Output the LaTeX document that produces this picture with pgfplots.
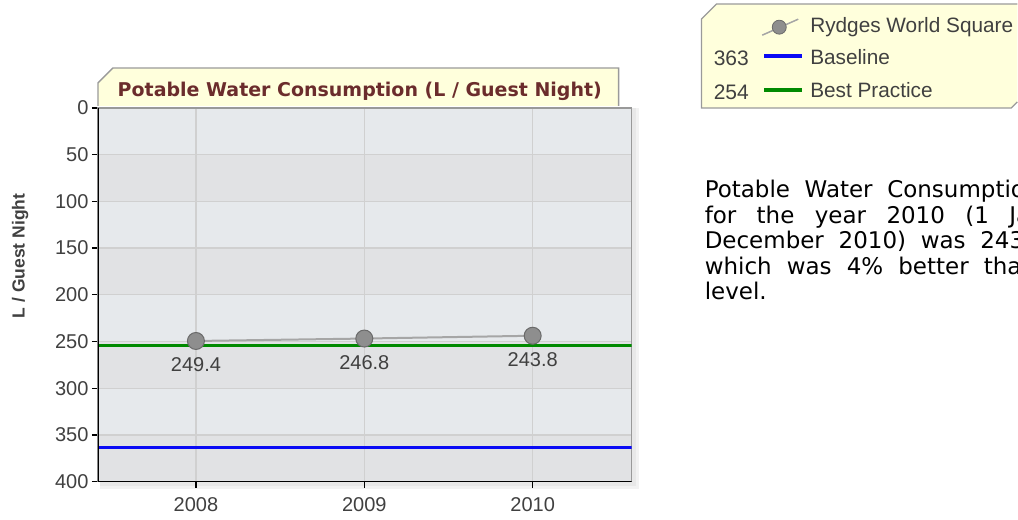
\documentclass[border=0pt]{standalone}
\usepackage{pgfplots}
\pgfplotsset{compat=1.18}
\usepackage{fontspec}
\setmainfont{Liberation Sans}
\newfontfamily\dejavu{DejaVu Sans}
\definecolor{bandlight}{HTML}{E6E9EC}
\definecolor{banddark}{HTML}{E1E2E4}
\definecolor{gridc}{HTML}{D0D0D0}
\definecolor{tabfill}{HTML}{FFFFDC}
\definecolor{tabborder}{HTML}{9A9A9A}
\definecolor{titlec}{HTML}{6B2C2C}
\definecolor{tickc}{HTML}{404040}
\definecolor{markfill}{HTML}{8E8E8E}
\definecolor{markdraw}{HTML}{6A6A6A}
\definecolor{linec}{HTML}{A6A6A6}
\definecolor{basec}{HTML}{0A0AF5}
\definecolor{bestc}{HTML}{008A00}
\pgfplotsset{frame/.style={at={(98pt,38pt)}, anchor=south west, scale only axis,
  width=534pt, height=374pt, xmin=2007.418, xmax=2010.5875, ymin=0, ymax=400, y dir=reverse}}
\begin{document}
\begin{tikzpicture}
\path (0pt,0pt) rectangle (1018pt,520pt);
% plot shadow
\fill[black!5] (100pt,31pt) rectangle (639pt,412pt);
\fill[black!9] (100pt,34pt) rectangle (636pt,412pt);
% title tab
\filldraw[fill=tabfill, draw=tabborder, line width=1.3pt] (98pt,414pt) -- (98pt,437pt) -- (113pt,452pt) -- (619pt,452pt) -- (619pt,414pt);
\node[font=\dejavu\bfseries\fontsize{19}{22}\selectfont, text=titlec, anchor=base, inner sep=0pt] at (360pt,423pt) {Potable Water Consumption (L / Guest Night)};
% legend box
\fill[tabfill] (702pt,412pt) -- (702pt,501pt) -- (717pt,516pt) -- (1018pt,516pt) -- (1018pt,418pt) -- (1012pt,412pt) -- cycle;
\draw[tabborder, line width=1.3pt] (1018pt,516pt) -- (717pt,516pt) -- (702pt,501pt) -- (702pt,412pt) -- (1012pt,412pt) -- (1018pt,418pt);
% paragraph
\begin{scope}[every node/.style={anchor=base west, inner sep=0pt, font=\dejavu\fontsize{23}{26}\selectfont}]
\node at (705pt,322pt) {\makebox[313pt][l]{\makebox[335pt][s]{Potable Water Consumption}}};
\node at (705pt,296pt) {\makebox[313pt][l]{\makebox[392pt][s]{for the year 2010 (1 January}}};
\node at (705pt,271pt) {\makebox[313pt][l]{\makebox[349pt][s]{December 2010) was 243.8,}}};
\node at (705pt,245pt) {\makebox[313pt][l]{\makebox[497pt][s]{which was 4\% better than the Baseline}}};
\node at (705pt,220pt) {level.};
\end{scope}
% background bands
\begin{axis}[frame, hide axis]
\fill[bandlight] (axis cs:2007.418,0) rectangle (axis cs:2010.5875,50);
\fill[banddark] (axis cs:2007.418,50) rectangle (axis cs:2010.5875,100);
\fill[bandlight] (axis cs:2007.418,100) rectangle (axis cs:2010.5875,150);
\fill[banddark] (axis cs:2007.418,150) rectangle (axis cs:2010.5875,200);
\fill[bandlight] (axis cs:2007.418,200) rectangle (axis cs:2010.5875,250);
\fill[banddark] (axis cs:2007.418,250) rectangle (axis cs:2010.5875,300);
\fill[bandlight] (axis cs:2007.418,300) rectangle (axis cs:2010.5875,350);
\fill[banddark] (axis cs:2007.418,350) rectangle (axis cs:2010.5875,400);
\end{axis}
\begin{axis}[
  frame,
  xtick={2008,2009,2010}, xticklabels={2008,2009,2010},
  ytick={0,50,...,400},
  grid=major, grid style={gridc, line width=1.3pt},
  tick pos=left, tick align=outside, major tick length=6pt,
  tick style={black, line width=1.2pt},
  ticklabel style={font=\fontsize{20}{24}\selectfont, text=tickc},
  xticklabel style={yshift=-6pt},
  /pgf/number format/assume math mode=true,
  axis line style={draw=gray!80, line width=1.5pt},
  ylabel={L / Guest Night},
  ylabel style={font=\bfseries\fontsize{17.5}{21}\selectfont, text=tickc, at={(axis description cs:-0.146,0.604)}, anchor=center},
  reverse legend,
  legend cell align=left,
  legend style={at={(axis description cs:1.1536,1.2434)}, anchor=north west, draw=none, fill=none, inner sep=0pt,
    font=\fontsize{20.8}{25}\selectfont, text=tickc, row sep=10pt,
    /tikz/every odd column/.append style={column sep=6pt},
    nodes={inner sep=0pt, text height=15pt, text depth=7pt}},
]
\addplot[bestc, line width=3pt,
  legend image code/.code={\node[anchor=base east, text=tickc, font=\fontsize{21}{25}\selectfont] at (-14pt,-5.5pt) {254}; \draw[bestc, line width=4pt] (0pt,4pt) -- (38pt,4pt);}]
  coordinates {(2007.418,254) (2010.5875,254)};
\addlegendentry{Best Practice}
\addplot[basec, line width=3pt,
  legend image code/.code={\node[anchor=base east, text=tickc, font=\fontsize{21}{25}\selectfont] at (-14pt,-5.5pt) {363}; \draw[basec, line width=4pt] (0pt,4pt) -- (38pt,4pt);}]
  coordinates {(2007.418,363) (2010.5875,363)};
\addlegendentry{Baseline}
\addplot[linec, line width=2pt, mark=*, mark size=8.5pt,
  mark options={fill=markfill, draw=markdraw, line width=1pt},
  nodes near coords={\pgfmathprintnumber[fixed,fixed zerofill,precision=1]{\pgfplotspointmeta}},
  nodes near coords style={anchor=center, yshift=-24pt, text=tickc, font=\fontsize{20}{24}\selectfont},
  legend image code/.code={\draw[linec, line width=1.5pt] (-2pt,-7pt) -- (34pt,9pt); \filldraw[fill=markfill, draw=markdraw, line width=0.8pt] (15pt,1pt) circle (7pt);}]
  coordinates {(2008,249.4) (2009,246.8) (2010,243.8)};
\addlegendentry{Rydges World Square}
\draw[black, line width=2pt] (rel axis cs:0,0) -- (rel axis cs:0,1);
\draw[black, line width=2pt] (rel axis cs:0,0) -- (rel axis cs:1,0);
\end{axis}
\end{tikzpicture}
\end{document}
